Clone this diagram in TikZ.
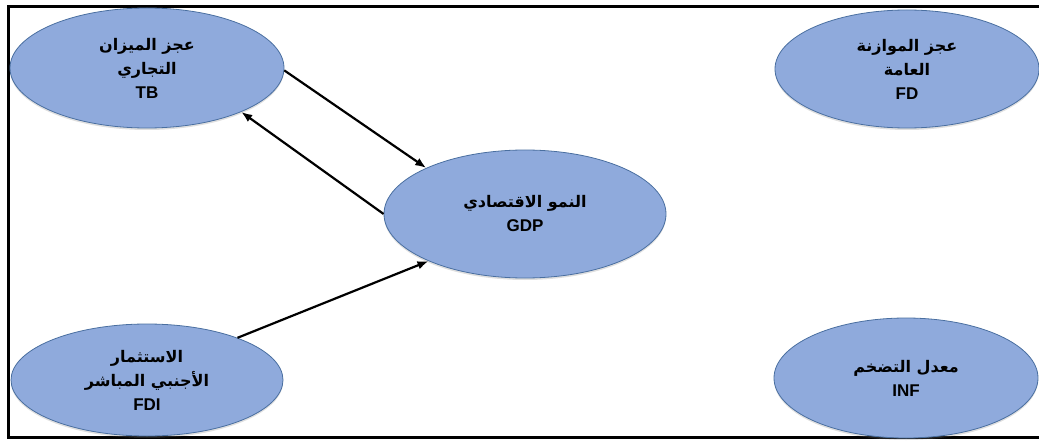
\documentclass[tikz,border=0pt]{standalone}
\usepackage{fontspec}
\setmainfont{Liberation Sans}
\newfontfamily\arabicfont[Script=Arabic]{DejaVu Sans}
\TeXXeTstate=1
\usetikzlibrary{shapes.geometric,arrows.meta,shadows}
\definecolor{bubblefill}{HTML}{8FAADC}
\definecolor{bubbleedge}{HTML}{4A6FA0}
% one right-to-left line of Arabic text
\newcommand{\rtlline}[1]{{\arabicfont\fontsize{16}{24}\selectfont\beginR #1\endR}}
\begin{document}
\begin{tikzpicture}[x=1pt,y=-1pt,
  var/.style={ellipse, draw=bubbleedge, line width=0.8pt, fill=bubblefill,
    inner sep=0pt, align=center, text=black,
    font=\bfseries\fontsize{17}{24}\selectfont,
    drop shadow={opacity=0.25, shadow xshift=0pt, shadow yshift=-2pt}},
  link/.style={-{Latex[length=11pt,width=8.5pt]}, line width=2.2pt}]
\useasboundingbox (0,0) rectangle (1039,441);
% open frame
\draw[line width=3pt] (1039,6.5) -- (8.5,6.5) -- (8.5,437.5) -- (1039,437.5);

% variables
\node[var, minimum width=274pt, minimum height=120pt] (tb) at (147,68)
  {\rtlline{عجز الميزان}\\ \rtlline{التجاري}\\ TB};
\node[var, minimum width=282pt, minimum height=128pt] (gdp) at (525,214)
  {\rtlline{النمو الاقتصادي}\\ GDP};
\node[var, minimum width=272pt, minimum height=112pt] (fdi) at (147,380)
  {\rtlline{الاستثمار}\\ \rtlline{الأجنبي المباشر}\\ FDI};
\node[var, minimum width=264pt, minimum height=118pt] (fd) at (907,69)
  {\rtlline{عجز الموازنة}\\ \rtlline{العامة}\\ FD};
\node[var, minimum width=264pt, minimum height=120pt] (inf) at (906,378)
  {\rtlline{معدل التضخم}\\ INF};

% links
\draw[link] (tb.-1) -- (gdp.155);
\draw[link] (gdp.180) -- (tb.-25);
\draw[link] (fdi.25) -- (gdp.-154);
\end{tikzpicture}
\end{document}
